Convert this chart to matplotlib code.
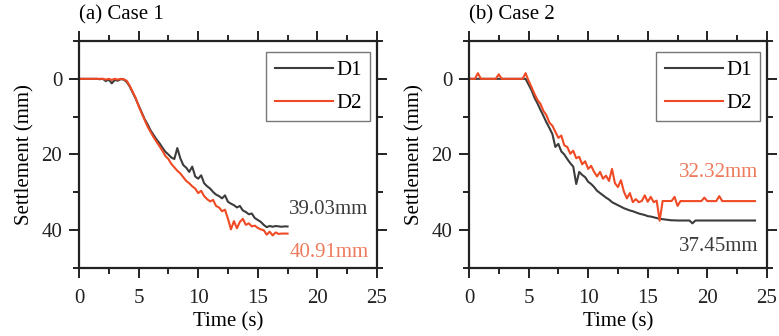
import matplotlib.pyplot as plt
from matplotlib.ticker import MultipleLocator

# ── DATA ──────────────────────────────────────────────────
# Case 1: time samples (s)
t1 = [0.0, 0.25, 0.5, 0.75, 1.0, 1.25, 1.5, 1.75,
      2.0, 2.25, 2.5, 2.75, 3.0, 3.25, 3.5, 3.75,
      4.0, 4.25, 4.5, 4.75, 5.0, 5.25, 5.5, 5.75,
      6.0, 6.25, 6.5, 6.75, 7.0, 7.25, 7.5, 7.75,
      8.0, 8.25, 8.5, 8.75, 9.0, 9.25, 9.5, 9.75,
      10.0, 10.25, 10.5, 10.75, 11.0, 11.25, 11.5, 11.75,
      12.0, 12.25, 12.5, 12.75, 13.0, 13.25, 13.5, 13.75,
      14.0, 14.25, 14.5, 14.75, 15.0, 15.25, 15.5, 15.75,
      16.0, 16.25, 16.5, 16.75, 17.0, 17.25, 17.5]

c1_d1 = [0, 0, 0, 0, 0, 0, 0, 0.1,
         0, 0.6, 0.2, 1.2, 0.3, 0.5, 0.1, 0.2,
         0.8, 2.0, 3.6, 5.2, 7.0, 8.8, 10.6, 12.0,
         13.6, 14.8, 16.0, 17.0, 18.2, 19.3, 20.0, 20.8,
         21.2, 18.3, 21.0, 22.8, 23.5, 24.6, 23.2, 25.8,
         26.4, 25.5, 27.6, 28.4, 29.0, 29.9, 30.6, 31.0,
         31.6, 30.8, 32.5, 33.0, 33.4, 34.0, 33.6, 34.8,
         35.2, 35.8, 35.6, 36.8, 37.3, 37.8, 38.6, 39.2,
         38.9, 39.1, 38.9, 39.0, 39.1, 39.0, 39.03]

c1_d2 = [0, 0, 0, 0, 0, 0, 0, 0,
         0, 0.2, 0, 0.3, 0, 0.2, 0, 0.1,
         0.5, 1.8, 3.4, 5.0, 7.2, 9.0, 10.8, 12.6,
         14.0, 15.4, 16.6, 17.8, 19.0, 20.4, 21.2, 22.5,
         23.4, 24.3, 25.0, 26.0, 27.0, 27.6, 28.4, 29.0,
         30.2, 29.6, 31.0, 31.8, 32.4, 32.0, 33.6, 34.0,
         35.0, 34.6, 37.0, 39.8, 37.6, 39.5, 37.8, 37.0,
         38.6, 38.2, 39.0, 38.8, 39.4, 39.8, 40.0, 41.2,
         40.4, 41.4, 40.6, 41.0, 40.9, 40.9, 40.91]

# Case 2: time samples (s)
t2 = [0.0, 0.25, 0.5, 0.75, 1.0, 1.25, 1.5, 1.75,
      2.0, 2.25, 2.5, 2.75, 3.0, 3.25, 3.5, 3.75,
      4.0, 4.25, 4.5, 4.75, 5.0, 5.25, 5.5, 5.75,
      6.0, 6.25, 6.5, 6.75, 7.0, 7.25, 7.5, 7.75,
      8.0, 8.25, 8.5, 8.75, 9.0, 9.25, 9.5, 9.75,
      10.0, 10.25, 10.5, 10.75, 11.0, 11.25, 11.5, 11.75,
      12.0, 12.25, 12.5, 12.75, 13.0, 13.25, 13.5, 13.75,
      14.0, 14.25, 14.5, 14.75, 15.0, 15.25, 15.5, 15.75,
      16.0, 16.25, 16.5, 16.75, 17.0, 17.25, 17.5, 17.75,
      18.0, 18.25, 18.5, 18.75, 19.0, 19.25, 19.5, 19.75,
      20.0, 20.25, 20.5, 20.75, 21.0, 21.25, 21.5, 21.75,
      22.0, 22.25, 22.5, 22.75, 23.0, 23.25, 23.5, 23.75,
      24.0]

c2_d1 = [0, 0, 0, 0, 0, 0, 0, 0,
         0, 0, 0, 0, 0, 0, 0, 0,
         0, 0, 0, 0, 1.5, 3.0, 5.0, 6.5,
         8.2, 9.8, 11.5, 13.0, 14.6, 18.0, 17.2, 19.2,
         20.0, 21.2, 22.3, 23.2, 27.8, 24.6, 25.4, 26.0,
         27.2, 27.8, 28.6, 29.6, 30.2, 30.8, 31.4, 31.9,
         32.6, 33.0, 33.4, 33.8, 34.2, 34.5, 34.8, 35.0,
         35.3, 35.6, 35.8, 36.0, 36.3, 36.4, 36.6, 36.8,
         37.0, 37.1, 37.2, 37.3, 37.4, 37.4, 37.45, 37.45,
         37.45, 37.45, 37.45, 38.2, 37.45, 37.45, 37.45, 37.45,
         37.45, 37.45, 37.45, 37.45, 37.45, 37.45, 37.45, 37.45,
         37.45, 37.45, 37.45, 37.45, 37.45, 37.45, 37.45, 37.45,
         37.45]

c2_d2 = [0, 0, 0, -1.5, 0, 0, 0, 0,
         0, 0, -1.2, 0, 0, 0, 0, 0,
         0, 0, 0, -1.5, 0.5, 2.2, 4.0, 5.6,
         6.6, 8.5, 9.6, 11.6, 12.4, 14.0, 15.6, 15.0,
         17.6, 18.0, 19.8, 19.0, 21.0, 20.6, 22.6, 21.8,
         23.8, 23.0, 24.6, 25.8, 24.6, 26.4, 25.6, 27.0,
         23.8, 27.6, 28.6, 26.8, 29.8, 31.6, 30.2, 32.6,
         31.8, 32.6, 32.3, 30.8, 32.5, 31.2, 32.6, 32.2,
         37.5, 32.3, 32.3, 32.3, 32.3, 31.2, 33.6, 32.3,
         32.32, 32.32, 32.32, 32.32, 32.32, 32.32, 32.32, 31.4,
         32.32, 32.32, 32.32, 32.32, 31.0, 32.32, 32.32, 32.32,
         32.32, 32.32, 32.32, 32.32, 32.32, 32.32, 32.32, 32.32,
         32.32]

titles = ['(a) Case 1', '(b) Case 2']
times = [t1, t2]
series_d1 = [c1_d1, c2_d1]
series_d2 = [c1_d2, c2_d2]
final_d1 = ['39.03mm', '37.45mm']
final_d2 = ['40.91mm', '32.32mm']
final_d1_y = [34.5, 44.2]
final_d2_y = [45.8, 24.7]

# ── STYLE ─────────────────────────────────────────────────
plt.rcParams['font.family'] = 'Liberation Serif'
plt.rcParams['font.size'] = 15
gray = '#3c3c3c'
red = '#f04a24'
red_txt = '#ee7a5c'
ink = '#222222'

fig = plt.figure(figsize=(7.79, 3.36), dpi=100)
lefts = [0.1014, 0.602]

for i, left in enumerate(lefts):
    ax = fig.add_axes([left, 0.2024, 0.3825, 0.6756])
    ax.plot(times[i], series_d1[i], color=gray, lw=1.5, label='D1')
    ax.plot(times[i], series_d2[i], color=red, lw=1.5, label='D2')

    ax.set_xlim(0, 25)
    ax.set_ylim(50, -10)
    ax.xaxis.set_major_locator(MultipleLocator(5))
    ax.xaxis.set_minor_locator(MultipleLocator(2.5))
    ax.yaxis.set_minor_locator(MultipleLocator(10))
    ax.set_yticks([0, 20, 40])
    ax.tick_params(which='both', direction='out', top=True, right=True,
                   width=1.4, colors=ink)
    ax.tick_params(which='major', length=7)
    ax.tick_params(which='minor', length=4)
    ax.tick_params(axis='x', which='major', pad=8)
    ax.tick_params(axis='y', which='major', pad=5)
    for sp in ax.spines.values():
        sp.set_linewidth(1.6)
        sp.set_color(ink)

    ax.set_xlabel('Time (s)', labelpad=3)
    ax.set_ylabel('Settlement (mm)', labelpad=5)
    ax.text(0, 1.115, titles[i], transform=ax.transAxes, ha='left',
            va='center', fontsize=15)

    ax.text(24.3, final_d1_y[i], final_d1[i], color=gray, ha='right', va='center')
    ax.text(24.3, final_d2_y[i], final_d2[i], color=red_txt, ha='right', va='center')

    leg = ax.legend(loc='upper right', bbox_to_anchor=(0.977, 0.952),
                    handlelength=2.8, handletextpad=0.15, borderpad=0.4,
                    labelspacing=0.65, fancybox=False, framealpha=1,
                    edgecolor='#777777', borderaxespad=0)
    leg.get_frame().set_linewidth(1.0)

plt.savefig('out.png', dpi=100)
